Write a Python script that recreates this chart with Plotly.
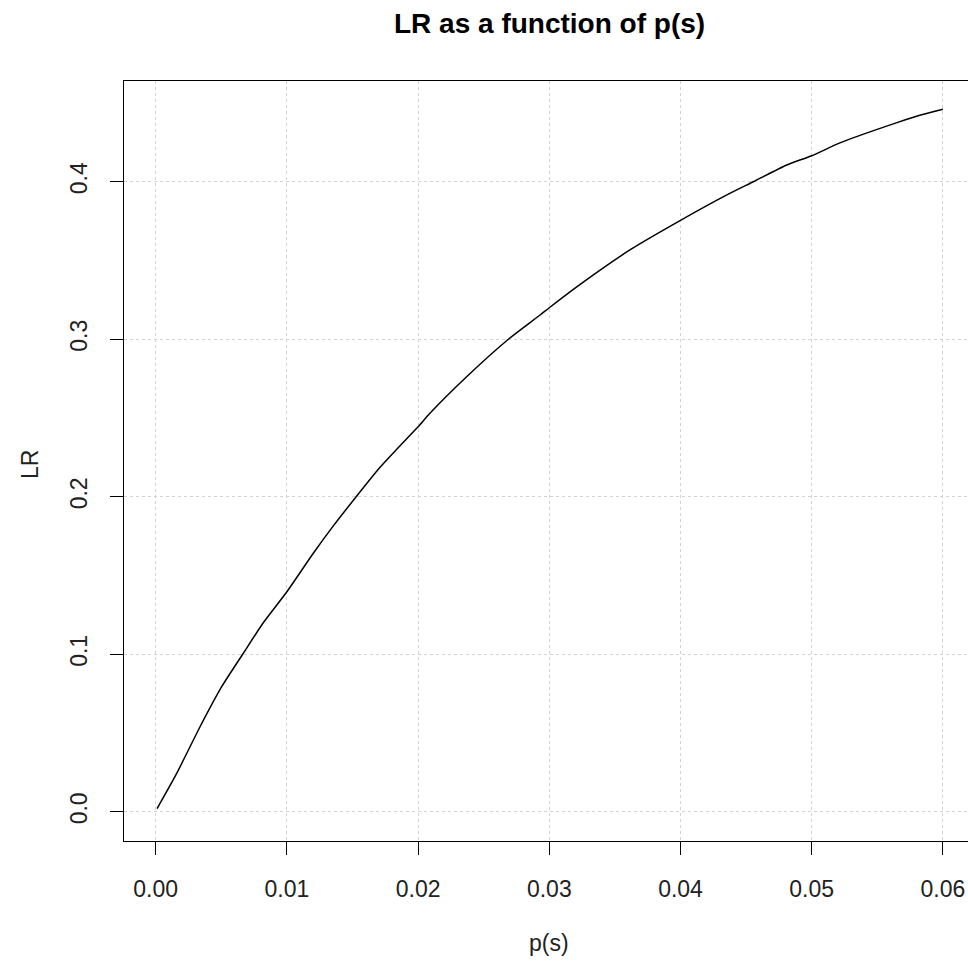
import plotly.graph_objects as go

# data
p_s = [0.0001, 0.0016, 0.00338, 0.00503, 0.00663, 0.0082, 0.01, 0.0120, 0.01354,
       0.01528, 0.0171, 0.0194, 0.02, 0.0209, 0.0237, 0.02688, 0.0293, 0.03,
       0.0323, 0.0362, 0.04, 0.0435, 0.04555, 0.0481, 0.05, 0.0522, 0.0565,
       0.0583, 0.06]
lr = [0.0020, 0.0244, 0.0540, 0.0794, 0.1000, 0.1200, 0.1397, 0.1640, 0.1815,
      0.2000, 0.2187, 0.2392, 0.2444, 0.2530, 0.2762, 0.3000, 0.3154, 0.3200,
      0.3345, 0.3570, 0.3755, 0.3915, 0.4000, 0.4106, 0.4165, 0.4248, 0.4375,
      0.4423, 0.4460]

x_ticks = [0.00, 0.01, 0.02, 0.03, 0.04, 0.05, 0.06]
x_tick_labels = ["0.00", "0.01", "0.02", "0.03", "0.04", "0.05", "0.06"]
y_ticks = [0.0, 0.1, 0.2, 0.3, 0.4]
y_tick_labels = ["0.0", "0.1", "0.2", "0.3", "0.4"]

FONT = "Liberation Sans, Arial, sans-serif"

fig = go.Figure()
fig.add_trace(go.Scatter(x=p_s, y=lr, mode="lines",
                         line=dict(color="black", width=1.5, shape="spline", smoothing=0.6),
                         showlegend=False, hoverinfo="skip"))

fig.update_layout(
    width=968, height=963,
    margin=dict(l=124, r=0, t=81, b=122),
    paper_bgcolor="white", plot_bgcolor="white",
    font=dict(family=FONT, color="black", size=23),
    xaxis=dict(
        range=[-0.002416, 0.061913], tickvals=x_ticks, ticktext=x_tick_labels,
        showgrid=True, gridcolor="#d3d3d3", griddash="dot", gridwidth=1,
        zeroline=False, showline=True, linecolor="black", linewidth=1,
        mirror=True, ticks="outside", ticklen=13, tickcolor="black",
        tickwidth=1, ticklabelstandoff=14,
        tickfont=dict(size=23, color="#222"),
    ),
    yaxis=dict(
        range=[-0.01854, 0.46394], tickvals=y_ticks, ticktext=y_tick_labels,
        showgrid=True, gridcolor="#d3d3d3", griddash="dot", gridwidth=1,
        zeroline=False, showline=True, linecolor="black", linewidth=1,
        mirror=False, ticks="outside", ticklen=13, tickcolor="black",
        tickwidth=1, tickangle=-90, ticklabelstandoff=14,
        tickfont=dict(size=23, color="#222"),
    ),
    annotations=[
        dict(text="<b>LR as a function of p(s)</b>", x=0.03, xref="x",
             y=23, yref="paper", yanchor="middle", xanchor="center",
             showarrow=False, font=dict(size=28, color="black")),
        dict(text="p(s)", x=0.03, xref="x", y=943, yanchor="middle",
             xanchor="center", showarrow=False,
             font=dict(size=23, color="#222")),
        dict(text="LR", x=30, y=465, xanchor="center", yanchor="middle",
             textangle=-90, showarrow=False,
             font=dict(size=23, color="#222")),
    ],
)

# convert pixel placements of annotations to paper coordinates
plot_w = 968 - 124
plot_h = 963 - 81 - 122
anns = list(fig.layout.annotations)
anns[0].update(y=(963 - 122 - 23) / plot_h)
anns[1].update(yref="paper", y=(963 - 122 - 943) / plot_h)
anns[2].update(xref="paper", x=(30 - 124) / plot_w, yref="paper",
               y=(963 - 122 - 465) / plot_h)
fig.layout.annotations = anns

fig.write_html("out.html")
